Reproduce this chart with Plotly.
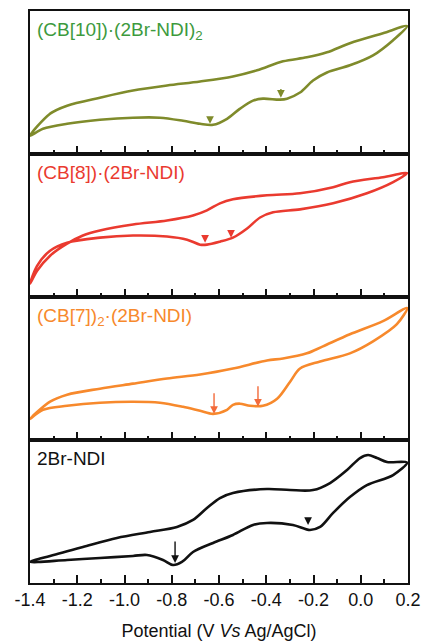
import plotly.graph_objects as go
from plotly.subplots import make_subplots

# ---------------- data (potential in V, current in normalized a.u.) ----------------
# Panel 1: (CB[10])·(2Br-NDI)2
p1_v = [-1.4, -1.315, -1.243, -1.104, -0.964, -0.820, -0.680, -0.541, -0.439, -0.329, -0.228, -0.143, -0.046, 0.094, 0.196,
        0.137, 0.052, -0.046, -0.143, -0.202, -0.257, -0.312, -0.342, -0.414, -0.456, -0.511, -0.566, -0.625, -0.680,
        -0.752, -0.850, -0.964, -1.104, -1.243, -1.345, -1.4]
p1_i = [0.127, 0.282, 0.338, 0.394, 0.444, 0.479, 0.507, 0.542, 0.585, 0.648, 0.676, 0.711, 0.775, 0.845, 0.894,
        0.796, 0.690, 0.620, 0.570, 0.514, 0.430, 0.387, 0.380, 0.387, 0.373, 0.317, 0.246, 0.204, 0.211,
        0.232, 0.254, 0.254, 0.239, 0.211, 0.176, 0.127]

# Panel 2: (CB[8])·(2Br-NDI)
p2_v = [-1.4, -1.370, -1.315, -1.243, -1.176, -1.104, -0.964, -0.820, -0.710, -0.651, -0.596, -0.541, -0.397, -0.257,
        -0.117, -0.046, 0.094, 0.196,
        0.137, 0.026, -0.117, -0.257, -0.371, -0.426, -0.481, -0.541, -0.596, -0.651, -0.680, -0.735, -0.820,
        -0.964, -1.104, -1.243, -1.315, -1.370, -1.4]
p2_i = [0.092, 0.183, 0.289, 0.373, 0.430, 0.465, 0.507, 0.535, 0.570, 0.606, 0.655, 0.683, 0.711, 0.725,
        0.768, 0.803, 0.838, 0.866,
        0.803, 0.725, 0.655, 0.613, 0.592, 0.556, 0.479, 0.415, 0.387, 0.366, 0.366, 0.401, 0.423,
        0.430, 0.415, 0.380, 0.324, 0.218, 0.092]

# Panel 3: (CB[7])2·(2Br-NDI)
p3_v = [-1.4, -1.315, -1.243, -1.104, -0.964, -0.820, -0.680, -0.541, -0.397, -0.329, -0.228, -0.160, -0.046, 0.094, 0.196,
        0.153, 0.052, -0.046, -0.172, -0.257, -0.299, -0.354, -0.414, -0.469, -0.511, -0.541, -0.566, -0.625, -0.680,
        -0.752, -0.850, -0.964, -1.104, -1.243, -1.345, -1.4]
p3_i = [0.148, 0.268, 0.317, 0.359, 0.394, 0.430, 0.458, 0.500, 0.556, 0.570, 0.606, 0.655, 0.739, 0.831, 0.923,
        0.810, 0.690, 0.606, 0.549, 0.500, 0.408, 0.289, 0.239, 0.239, 0.254, 0.246, 0.211, 0.183, 0.204,
        0.232, 0.261, 0.268, 0.261, 0.239, 0.211, 0.148]

# Panel 4: 2Br-NDI
p4_v = [-1.4, -1.315, -1.176, -1.032, -0.892, -0.778, -0.710, -0.651, -0.596, -0.541, -0.397, -0.299, -0.202, -0.130,
        -0.058, -0.003, 0.031, 0.069, 0.111, 0.196,
        0.137, 0.026, -0.046, -0.117, -0.172, -0.215, -0.287, -0.397, -0.456, -0.541, -0.625, -0.710, -0.757,
        -0.795, -0.837, -0.905, -0.964, -1.104, -1.243, -1.4]
p4_i = [0.147, 0.189, 0.252, 0.315, 0.357, 0.392, 0.441, 0.524, 0.594, 0.629, 0.657, 0.650, 0.650, 0.699,
        0.790, 0.874, 0.895, 0.874, 0.846, 0.842,
        0.755, 0.685, 0.601, 0.490, 0.392, 0.371, 0.406, 0.420, 0.406, 0.336, 0.280, 0.217, 0.147,
        0.126, 0.161, 0.196, 0.189, 0.175, 0.161, 0.147]

# peak markers (arrows): panel, potential, tail current, head current
arrow_panel = [1, 1, 2, 2, 3, 3, 4, 4]
arrow_v = [-0.638, -0.338, -0.659, -0.549, -0.621, -0.435, -0.786, -0.223]
arrow_tail = [0.268, 0.465, 0.437, 0.472, 0.338, 0.387, 0.301, 0.462]
arrow_head = [0.211, 0.394, 0.380, 0.415, 0.183, 0.232, 0.140, 0.406]

labels = ["(CB[10])·(2Br-NDI)<sub>2</sub>", "(CB[8])·(2Br-NDI)", "(CB[7])<sub>2</sub>·(2Br-NDI)", "2Br-NDI"]
x_tickvals = [-1.4, -1.2, -1.0, -0.8, -0.6, -0.4, -0.2, 0.0, 0.2]
x_ticktext = ["-1.4", "-1.2", "-1.0", "-0.8", "-0.6", "-0.4", "-0.2", "0.0", "0.2"]
x_minor = [-1.3, -1.1, -0.9, -0.7, -0.5, -0.3, -0.1, 0.1]

line_colors = ["#7f8b2b", "#ea3a2f", "#f7892c", "#111111"]
label_colors = ["#3d9a3d", "#ea3a2f", "#f7892c", "#111111"]
arrow_colors = ["#7f8b2b", "#ea3a2f", "#f36a3a", "#111111"]

FONT = "Liberation Sans, Arial, sans-serif"

fig = make_subplots(rows=4, cols=1, shared_xaxes=True, vertical_spacing=0)

series = [(p1_v, p1_i), (p2_v, p2_i), (p3_v, p3_i), (p4_v, p4_i)]
for k, (v, i) in enumerate(series):
    fig.add_trace(go.Scatter(x=v, y=i, mode="lines",
                             line=dict(color=line_colors[k], width=2.6, shape="spline", smoothing=0.9),
                             showlegend=False, hoverinfo="skip"), row=k + 1, col=1)

for k in range(4):
    ax = "x" if k == 0 else f"x{k + 1}"
    ay = "y" if k == 0 else f"y{k + 1}"
    fig.add_annotation(text=labels[k], xref=f"{ax} domain", yref=f"{ay} domain",
                       x=0.012, y=0.96, xanchor="left", yanchor="top", showarrow=False,
                       font=dict(family=FONT, size=19, color=label_colors[k]))

for p, v, t, h in zip(arrow_panel, arrow_v, arrow_tail, arrow_head):
    ax = "x" if p == 1 else f"x{p}"
    ay = "y" if p == 1 else f"y{p}"
    fig.add_annotation(x=v, y=h, ax=v, ay=t, xref=ax, yref=ay, axref=ax, ayref=ay,
                       showarrow=True, arrowhead=2, arrowsize=1.1, arrowwidth=1.4,
                       arrowcolor=arrow_colors[p - 1], text="")

for k in range(1, 5):
    fig.update_xaxes(range=[-1.4, 0.2], tickmode="array", tickvals=x_tickvals, ticktext=x_ticktext,
                     ticks="inside", ticklen=8, tickwidth=1.5, tickcolor="#111",
                     minor=dict(tickmode="array", tickvals=x_minor, ticks="inside", ticklen=4,
                                tickwidth=1.5, tickcolor="#111"),
                     showline=True, linecolor="#111", linewidth=1.5, mirror=True,
                     showgrid=False, zeroline=False, automargin=False,
                     tickfont=dict(family=FONT, size=18, color="#111"),
                     row=k, col=1)
    fig.update_yaxes(range=[0, 1], showticklabels=False, ticks="", showline=True, linecolor="#111",
                     linewidth=1.5, mirror=True, showgrid=False, zeroline=False, automargin=False,
                     row=k, col=1)

fig.update_xaxes(title=dict(text="Potential (V <i>Vs</i> Ag/AgCl)", standoff=16,
                            font=dict(family=FONT, size=18, color="#111")), row=4, col=1)

fig.update_layout(width=422, height=641, margin=dict(l=30, r=14, t=11, b=58),
                  paper_bgcolor="white", plot_bgcolor="white")

fig.write_html("out.html", config={"displayModeBar": False},
               post_script="document.body.style.margin='0';document.body.style.overflow='hidden';")
